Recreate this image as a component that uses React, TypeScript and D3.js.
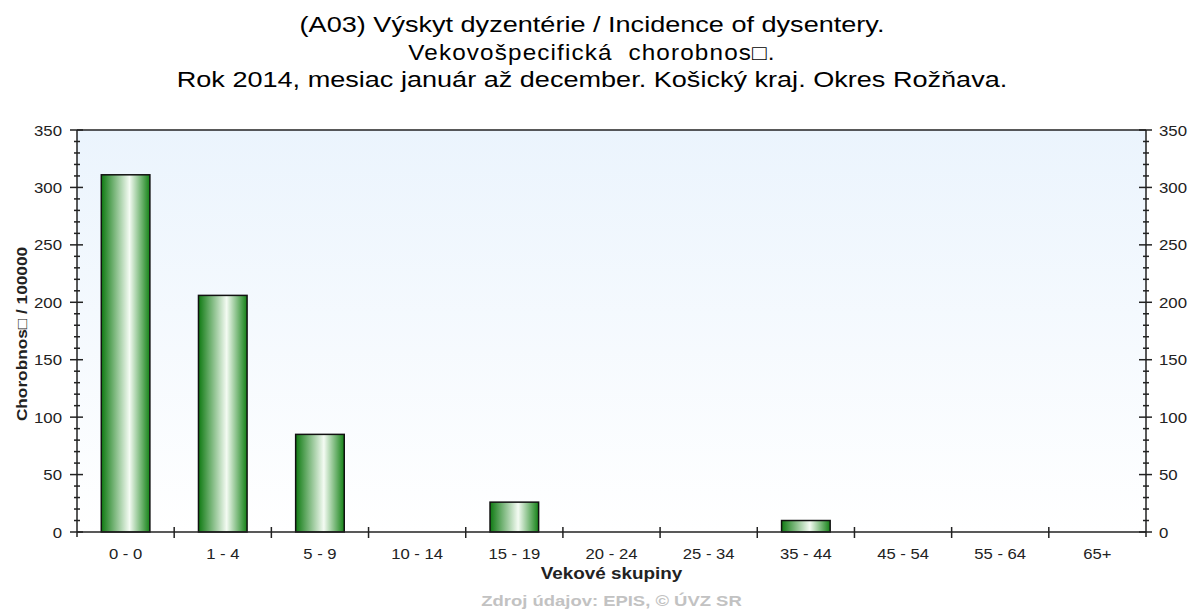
import React, { useEffect, useRef } from "react";
import * as d3 from "d3";

const categories = ["0 - 0", "1 - 4", "5 - 9", "10 - 14", "15 - 19", "20 - 24", "25 - 34", "35 - 44", "45 - 54", "55 - 64", "65+"];
const values = [311, 206, 85, 0, 26, 0, 0, 10, 0, 0, 0];
const yTicks = [0, 50, 100, 150, 200, 250, 300, 350];
const titleLines = [
  "(A03) Výskyt dyzentérie / Incidence of dysentery.",
  "Vekovošpecifická  chorobnos\u25A1.",
  "Rok 2014, mesiac január až december. Košický kraj. Okres Rožňava.",
];

const W = 1189;
const H = 610;
const FONT = "'Liberation Sans', Arial, sans-serif";

const App = () => {
  const svgRef = useRef<SVGSVGElement>(null);

  useEffect(() => {
    const svg = d3.select(svgRef.current);
    svg.selectAll("*").remove();

    const margin = { top: 130, right: 43, bottom: 78, left: 77 };
    const x0 = margin.left;
    const x1 = W - margin.right;
    const y0 = H - margin.bottom;
    const y1 = margin.top;

    const x = d3.scaleBand<string>().domain(categories).range([x0, x1]).paddingInner(0.5).paddingOuter(0.25);
    const xb = d3.scaleLinear().domain([0, categories.length]).range([x0, x1]);
    const y = d3.scaleLinear().domain([0, 350]).range([y0, y1]);

    const defs = svg.append("defs");
    const bg = defs.append("linearGradient").attr("id", "bg").attr("x1", 0).attr("y1", 0).attr("x2", 0).attr("y2", 1);
    bg.append("stop").attr("offset", "0%").attr("stop-color", "#ebf4fd");
    bg.append("stop").attr("offset", "100%").attr("stop-color", "#ffffff");

    const bar = defs.append("linearGradient").attr("id", "bar").attr("x1", 0).attr("y1", 0).attr("x2", 1).attr("y2", 0);
    bar.append("stop").attr("offset", "0%").attr("stop-color", "#0f7a12");
    bar.append("stop").attr("offset", "58%").attr("stop-color", "#f4fbf3");
    bar.append("stop").attr("offset", "100%").attr("stop-color", "#148216");

    // plot background
    svg.append("rect").attr("x", x0).attr("y", y1).attr("width", x1 - x0).attr("height", y0 - y1).attr("fill", "url(#bg)");

    // bars
    svg
      .append("g")
      .selectAll("rect")
      .data(values.map((v, i) => ({ v, c: categories[i] })).filter((d) => d.v > 0))
      .join("rect")
      .attr("x", (d) => x(d.c)!)
      .attr("y", (d) => y(d.v))
      .attr("width", x.bandwidth())
      .attr("height", (d) => y0 - y(d.v))
      .attr("fill", "url(#bar)")
      .attr("stroke", "#111")
      .attr("stroke-width", 1.5);

    // frame lines
    const line = svg.append("g").attr("stroke", "#222").attr("stroke-width", 1.5);
    line.append("line").attr("x1", x0).attr("x2", x1).attr("y1", y1).attr("y2", y1);
    line.append("line").attr("x1", x0).attr("x2", x1).attr("y1", y0).attr("y2", y0);
    line.append("line").attr("x1", x0).attr("x2", x0).attr("y1", y1).attr("y2", y0 + 5);
    line.append("line").attr("x1", x1).attr("x2", x1).attr("y1", y1).attr("y2", y0 + 5);

    // y ticks, both sides
    const minor = d3.range(0, 351, 10);
    [x0, x1].forEach((ax) => {
      line
        .append("g")
        .selectAll("line")
        .data(minor)
        .join("line")
        .attr("x1", (d) => ax - (d % 50 === 0 ? 7 : 3))
        .attr("x2", (d) => ax + (d % 50 === 0 ? 6 : 3))
        .attr("y1", (d) => y(d))
        .attr("y2", (d) => y(d));
    });

    // x ticks
    line
      .append("g")
      .selectAll("line")
      .data(d3.range(1, categories.length))
      .join("line")
      .attr("x1", (d) => xb(d))
      .attr("x2", (d) => xb(d))
      .attr("y1", y0 - 5)
      .attr("y2", y0 + 6);

    // the source font is wider than Arial, so stretch text horizontally
    const place = (px: number, py: number, sx: number, rot = 0) =>
      `translate(${px},${py})${rot ? ` rotate(${rot})` : ""} scale(${sx},1)`;

    const txt = svg.append("g").attr("font-family", FONT).attr("fill", "#222");

    txt
      .append("g")
      .selectAll("text")
      .data(yTicks)
      .join("text")
      .attr("transform", (d) => place(x0 - 15, y(d) + 5.5, 1.12))
      .attr("text-anchor", "end")
      .attr("font-size", 15)
      .text((d) => d);

    txt
      .append("g")
      .selectAll("text")
      .data(yTicks)
      .join("text")
      .attr("transform", (d) => place(x1 + 13, y(d) + 5.5, 1.12))
      .attr("text-anchor", "start")
      .attr("font-size", 15)
      .text((d) => d);

    txt
      .append("g")
      .selectAll("text")
      .data(categories)
      .join("text")
      .attr("transform", (d) => place(x(d)! + x.bandwidth() / 2, y0 + 27, 1.11))
      .attr("text-anchor", "middle")
      .attr("font-size", 15)
      .text((d) => d);

    txt
      .append("text")
      .attr("transform", place((x0 + x1) / 2, y0 + 47, 1.18))
      .attr("text-anchor", "middle")
      .attr("font-size", 16)
      .attr("font-weight", "bold")
      .text("Vekové skupiny");

    txt
      .append("text")
      .attr("transform", place((x0 + x1) / 2, y0 + 74, 1.23))
      .attr("text-anchor", "middle")
      .attr("font-size", 15)
      .attr("font-weight", "bold")
      .attr("fill", "#c2c2c2")
      .text("Zdroj údajov: EPIS, © ÚVZ SR");

    txt
      .append("text")
      .attr("transform", place(27, 334, 1.15, -90))
      .attr("text-anchor", "middle")
      .attr("font-size", 15)
      .attr("font-weight", "bold")
      .text("Chorobnos\u25A1 / 100000");

    txt
      .append("g")
      .selectAll("text")
      .data(titleLines)
      .join("text")
      .attr("transform", (_, i) => place(592, 32 + i * 27.5, i === 1 ? 1.13 : 1.26))
      .attr("text-anchor", "middle")
      .attr("font-size", 21.5)
      .attr("letter-spacing", (_, i) => (i === 1 ? 1 : 0))
      .style("white-space", "pre")
      .attr("fill", "#000")
      .text((d) => d);
  }, []);

  return (
    <svg
      ref={svgRef}
      width={W}
      height={H}
      style={{ position: "absolute", left: 0, top: 0, background: "#fff" }}
    />
  );
};

export default App;
